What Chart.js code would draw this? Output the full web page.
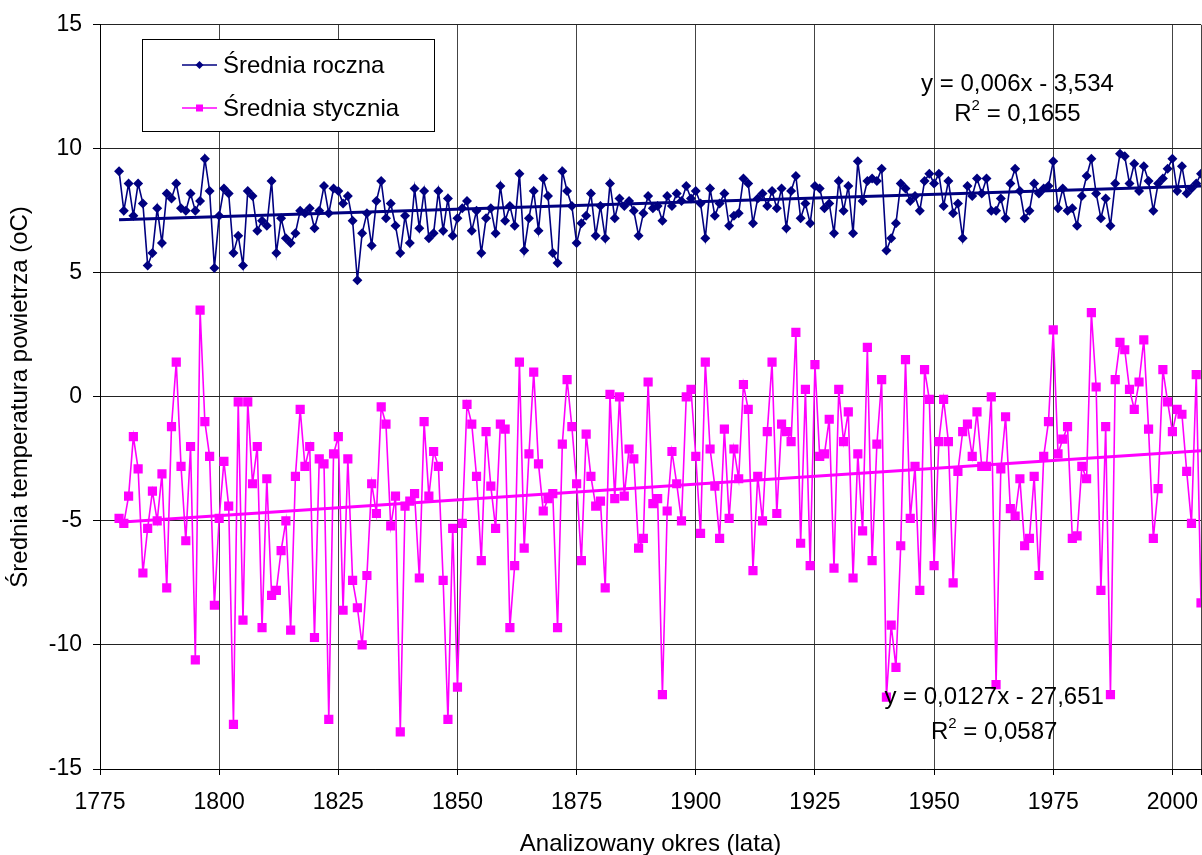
<!DOCTYPE html>
<html lang="pl">
<head>
<meta charset="utf-8">
<title>Średnia temperatura powietrza</title>
<script src="https://cdn.jsdelivr.net/npm/chart.js@4.4.1/dist/chart.umd.min.js"></script>
<style>
    body { margin: 0; background: #fff; }
    canvas { display: block; }
</style>
</head>
<body>
<canvas id="wykres" width="1202" height="855"></canvas>
<script>
// lata 1779-2006
const pierwszyRok = 1779;
const ostatniRok = 2006;

// średnia roczna (oC)
const sredniaRoczna = [
    9.1, 7.5, 8.6, 7.3, 8.6, 7.8, 5.3, 5.8, 7.6, 6.2,
    8.2, 8.0, 8.6, 7.6, 7.5, 8.2, 7.5, 7.9, 9.6, 8.3,
    5.2, 7.3, 8.4, 8.2, 5.8, 6.5, 5.3, 8.3, 8.1, 6.7,
    7.1, 6.9, 8.7, 5.8, 7.2, 6.4, 6.2, 6.6, 7.5, 7.4,
    7.6, 6.8, 7.5, 8.5, 7.4, 8.4, 8.3, 7.8, 8.1, 7.1,
    4.7, 6.6, 7.4, 6.1, 7.9, 8.7, 7.2, 7.8, 6.9, 5.8,
    7.3, 6.2, 8.4, 6.8, 8.3, 6.4, 6.6, 8.3, 6.7, 8.0,
    6.5, 7.2, 7.6, 7.9, 6.7, 7.5, 5.8, 7.2, 7.6, 6.6,
    8.5, 7.1, 7.7, 6.9, 9.0, 5.9, 7.2, 8.3, 6.7, 8.8,
    8.1, 5.8, 5.4, 9.1, 8.3, 7.7, 6.2, 7.0, 7.3, 8.2,
    6.5, 7.7, 6.4, 8.6, 7.2, 8.0, 7.7, 7.9, 7.5, 6.5,
    7.4, 8.1, 7.6, 7.7, 7.1, 8.1, 7.7, 8.2, 7.9, 8.5,
    8.0, 8.3, 7.8, 6.4, 8.4, 7.3, 7.8, 8.2, 6.9, 7.3,
    7.4, 8.8, 8.6, 7.0, 8.0, 8.2, 7.7, 8.3, 7.6, 8.4,
    6.8, 8.3, 8.9, 7.2, 7.8, 7.0, 8.5, 8.4, 7.6, 7.8,
    6.6, 8.7, 7.5, 8.5, 6.6, 9.5, 7.9, 8.7, 8.8, 8.7,
    9.2, 5.9, 6.4, 7.0, 8.6, 8.4, 7.9, 8.1, 7.5, 8.7,
    9.0, 8.6, 9.0, 7.7, 8.7, 7.4, 7.8, 6.4, 8.5, 8.1,
    8.8, 8.2, 8.8, 7.5, 7.5, 8.0, 7.2, 8.6, 9.2, 8.3,
    7.2, 7.5, 8.6, 8.2, 8.4, 8.5, 9.5, 7.6, 8.4, 7.5,
    7.6, 6.9, 8.1, 8.9, 9.6, 8.2, 7.2, 8.0, 6.9, 8.6,
    9.8, 9.7, 8.6, 9.4, 8.3, 9.3, 8.7, 7.5, 8.6, 8.8,
    9.2, 9.6, 8.3, 9.3, 8.2, 8.4, 8.6, 9.0
];

// średnia stycznia (oC)
const sredniaStycznia = [
    -4.9, -5.1, -4.0, -1.6, -2.9, -7.1, -5.3, -3.8, -5.0, -3.1,
    -7.7, -1.2, 1.4, -2.8, -5.8, -2.0, -10.6, 3.5, -1.0, -2.4,
    -8.4, -4.9, -2.6, -4.4, -13.2, -0.2, -9.0, -0.2, -3.5, -2.0,
    -9.3, -3.3, -8.0, -7.8, -6.2, -5.0, -9.4, -3.2, -0.5, -2.8,
    -2.0, -9.7, -2.5, -2.7, -13.0, -2.3, -1.6, -8.6, -2.5, -7.4,
    -8.5, -10.0, -7.2, -3.5, -4.7, -0.4, -1.1, -5.2, -4.0, -13.5,
    -4.4, -4.2, -3.9, -7.3, -1.0, -4.0, -2.2, -2.8, -7.4, -13.0,
    -5.3, -11.7, -5.1, -0.3, -1.1, -3.2, -6.6, -1.4, -3.6, -5.3,
    -1.1, -1.3, -9.3, -6.8, 1.4, -6.1, -2.3, 1.0, -2.7, -4.6,
    -4.1, -3.9, -9.3, -1.9, 0.7, -1.2, -3.5, -6.6, -1.5, -3.2,
    -4.4, -4.2, -7.7, 0.1, -4.1, 0.0, -4.0, -2.1, -2.5, -6.1,
    -5.7, 0.6, -4.3, -4.1, -12.0, -4.6, -2.2, -3.5, -5.0, 0.0,
    0.3, -2.4, -5.5, 1.4, -2.1, -3.6, -5.7, -1.3, -4.9, -2.1,
    -3.3, 0.5, -0.5, -7.0, -3.2, -5.0, -1.4, 1.4, -4.7, -1.1,
    -1.4, -1.8, 2.6, -5.9, 0.3, -6.8, 1.3, -2.4, -2.3, -0.9,
    -6.9, 0.3, -1.8, -0.6, -7.3, -2.3, -5.4, 2.0, -6.6, -1.9,
    0.7, -12.1, -9.2, -10.9, -6.0, 1.5, -4.9, -2.8, -7.8, 1.1,
    -0.1, -6.8, -1.8, -0.1, -1.8, -7.5, -3.0, -1.4, -1.1, -2.4,
    -0.6, -2.8, -2.8, 0.0, -11.6, -2.9, -0.8, -4.5, -4.8, -3.3,
    -6.0, -5.7, -3.2, -7.2, -2.4, -1.0, 2.7, -2.3, -1.7, -1.2,
    -5.7, -5.6, -2.8, -3.3, 3.4, 0.4, -7.8, -1.2, -12.0, 0.7,
    2.2, 1.9, 0.3, -0.5, 0.6, 2.3, -1.3, -5.7, -3.7, 1.1,
    -0.2, -1.4, -0.5, -0.7, -3.0, -5.1, 0.9, -8.3
];

// linie trendu (z opisu na wykresie)
const trendRoczna = { a: 0.006, b: -3.534 };
const trendStycznia = { a: 0.0127, b: -27.651 };

// podziałki osi
const etykietyX = [1775, 1800, 1825, 1850, 1875, 1900, 1925, 1950, 1975, 2000];
const osX = { min: 1775, max: 2006 };
const osY = { min: -15, max: 15, krok: 5 };

const lata = sredniaRoczna.map((v, i) => pierwszyRok + i);

function punkty(wartosci) {
    return wartosci.map((v, i) => ({ x: lata[i], y: v }));
}

function trend(t) {
    return [pierwszyRok, ostatniRok].map(r => ({ x: r, y: t.a * r + t.b }));
}

const czcionka = 'Liberation Sans, Arial, sans-serif';
Chart.defaults.font.family = czcionka;
Chart.defaults.font.size = 23;
Chart.defaults.color = '#000';

// legenda w ramce i opisy trendu
const opisy = {
    id: 'opisy',
    afterDraw(chart) {
        const c = chart.ctx;
        const x = chart.scales.x, y = chart.scales.y;
        c.save();

        // ramka legendy
        c.fillStyle = '#fff';
        c.fillRect(142.5, 39.5, 292, 92);
        c.strokeStyle = '#000';
        c.lineWidth = 1;
        c.strokeRect(142.5, 39.5, 292, 92);

        c.lineWidth = 1.5;
        c.strokeStyle = '#000080';
        c.beginPath(); c.moveTo(182, 65); c.lineTo(217, 65); c.stroke();
        c.fillStyle = '#000080';
        c.beginPath();
        c.moveTo(199.5, 61); c.lineTo(203.5, 65); c.lineTo(199.5, 69); c.lineTo(195.5, 65);
        c.closePath(); c.fill();

        c.strokeStyle = '#ff00ff';
        c.beginPath(); c.moveTo(182, 108); c.lineTo(217, 108); c.stroke();
        c.fillStyle = '#ff00ff';
        c.fillRect(196, 104.5, 7, 7);

        c.fillStyle = '#000';
        c.font = '24px ' + czcionka;
        c.textBaseline = 'middle';
        c.textAlign = 'left';
        c.fillText('Średnia roczna', 223, 66);
        c.fillText('Średnia stycznia', 223, 109);

        // opisy trendu
        function rownanie(tekst, r2, px, py, odstep) {
            c.font = '24px ' + czcionka;
            c.textAlign = 'center';
            c.fillText(tekst, px, py);
            const w1 = c.measureText('R').width;
            const reszta = ' = ' + r2;
            const w2 = c.measureText(reszta).width;
            c.font = '15px ' + czcionka;
            const w3 = c.measureText('2').width;
            const start = px - (w1 + w2 + w3) / 2;
            c.textAlign = 'left';
            c.fillText('2', start + w1, py + odstep - 8);
            c.font = '24px ' + czcionka;
            c.fillText('R', start, py + odstep);
            c.fillText(reszta, start + w1 + w3, py + odstep);
        }
        rownanie('y = 0,006x - 3,534', '0,1655', x.getPixelForValue(1967.5), y.getPixelForValue(12.6), 30);
        rownanie('y = 0,0127x - 27,651', '0,0587', x.getPixelForValue(1962.6), y.getPixelForValue(-12.1), 35);

        c.restore();
    }
};

new Chart(document.getElementById('wykres'), {
    type: 'line',
    data: {
        datasets: [
            {
                label: 'trend roczna',
                data: trend(trendRoczna),
                borderColor: '#000080',
                borderWidth: 3,
                pointRadius: 0
            },
            {
                label: 'trend stycznia',
                data: trend(trendStycznia),
                borderColor: '#ff00ff',
                borderWidth: 3,
                pointRadius: 0
            },
            {
                label: 'Średnia roczna',
                data: punkty(sredniaRoczna),
                borderColor: '#000080',
                backgroundColor: '#000080',
                borderWidth: 1.6,
                pointStyle: 'rectRot',
                pointRadius: 5,
                pointBorderWidth: 0,
                tension: 0
            },
            {
                label: 'Średnia stycznia',
                data: punkty(sredniaStycznia),
                borderColor: '#ff00ff',
                backgroundColor: '#ff00ff',
                borderWidth: 1.6,
                pointStyle: 'rect',
                pointRadius: 6.5,
                pointBorderWidth: 0,
                tension: 0
            }
        ]
    },
    options: {
        responsive: false,
        animation: false,
        layout: {
            autoPadding: false,
            padding: { top: 22, right: 1, left: 0, bottom: 0 }
        },
        plugins: {
            legend: { display: false },
            tooltip: { enabled: false }
        },
        scales: {
            x: {
                type: 'linear',
                min: osX.min,
                max: osX.max,
                afterBuildTicks: s => {
                    // ostatnia linia (bez opisu) zamyka obszar wykresu z prawej
                    s.ticks = etykietyX.concat([osX.max]).map(v => ({ value: v }));
                },
                ticks: {
                    padding: 14,
                    maxRotation: 0,
                    autoSkip: false,
                    callback: v => (etykietyX.includes(v) ? String(v) : '')
                },
                grid: { color: '#444', tickLength: 6, tickColor: '#000' },
                border: { color: '#000', width: 1 },
                title: {
                    display: true,
                    text: 'Analizowany okres (lata)',
                    font: { size: 24 },
                    padding: { top: 0, bottom: -4 }
                },
                afterFit: s => {
                    s.height = 86;
                    s.paddingLeft = 0;
                    s.paddingRight = 0;
                }
            },
            y: {
                min: osY.min,
                max: osY.max,
                ticks: { stepSize: osY.krok, padding: 11 },
                grid: { color: '#222', tickLength: 7, tickColor: '#000' },
                border: { color: '#000', width: 1 },
                title: {
                    display: true,
                    text: 'Średnia temperatura powietrza (oC)',
                    font: { size: 24 },
                    padding: { top: 6, bottom: 0 }
                },
                afterFit: s => { s.width = 100; }
            }
        }
    },
    plugins: [opisy]
});
</script>
</body>
</html>
